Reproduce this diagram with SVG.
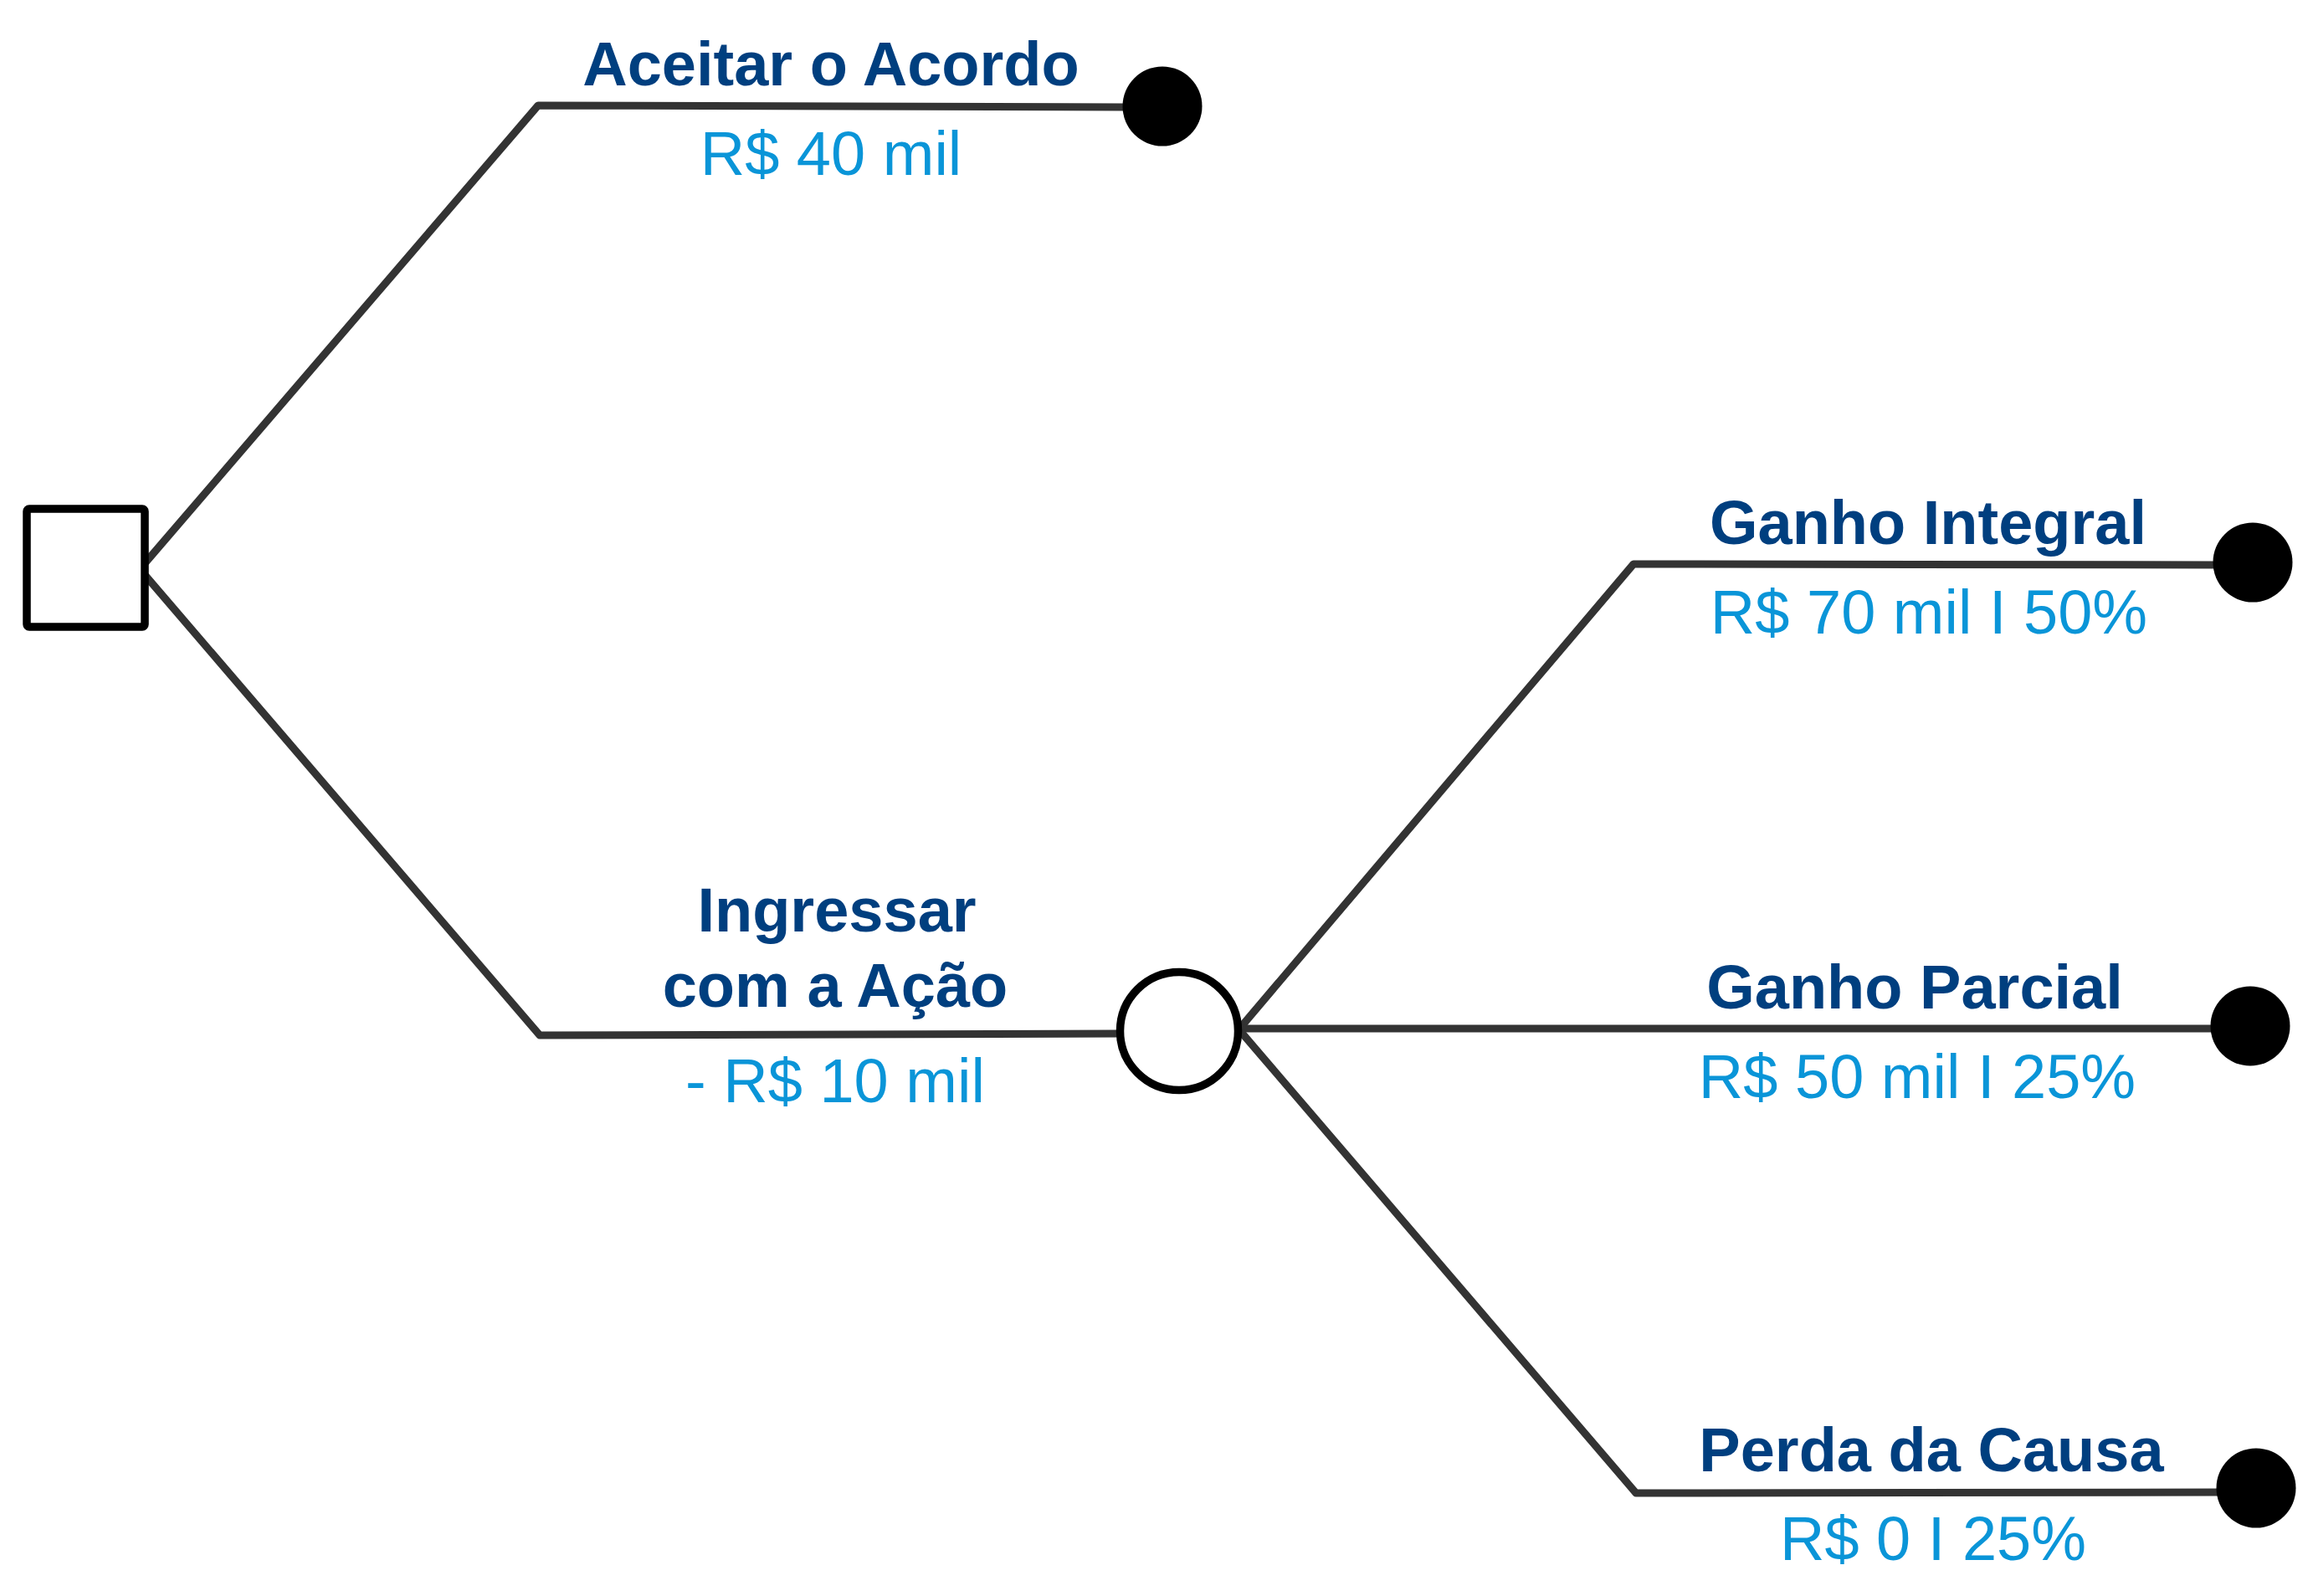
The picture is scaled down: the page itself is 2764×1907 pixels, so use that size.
<svg xmlns="http://www.w3.org/2000/svg" width="2764" height="1907" viewBox="0 0 2764 1907">
<style>
.edge{fill:none;stroke:#333333;stroke-width:9;stroke-linejoin:round;stroke-linecap:butt}
.lbl{font-family:"Liberation Sans",Arial,sans-serif;font-size:74px;font-weight:bold;fill:#003F7F;text-anchor:middle}
.val{font-family:"Liberation Sans",Arial,sans-serif;font-size:74px;fill:#0A95D8;text-anchor:middle}
.leaf{fill:#000000}
</style>
<rect width="2764" height="1907" fill="#ffffff"/>
<g id="connectors">
<path class="edge" d="M174,672 L643,126 L1345,128"/>
<path class="edge" d="M174,688 L645,1237 L1342,1235"/>
<path class="edge" d="M1483,1227 L1952,674 L2650,675"/>
<path class="edge" d="M1483,1229 L2650,1229"/>
<path class="edge" d="M1483,1233 L1955,1784 L2652,1783"/>
</g>
<g id="decision">
<rect x="32" y="608" width="141" height="141" rx="3" fill="#ffffff" stroke="#000000" stroke-width="9.5"/>
</g>
<g id="chance">
<circle cx="1409" cy="1232" r="70.5" fill="#ffffff" stroke="#000000" stroke-width="9.5"/>
</g>
<g id="leaf-acordo">
<circle class="leaf" cx="1389" cy="127" r="47.5"/>
</g>
<g id="leaf-integral">
<circle class="leaf" cx="2692" cy="672" r="47.5"/>
</g>
<g id="leaf-parcial">
<circle class="leaf" cx="2689" cy="1226" r="47.5"/>
</g>
<g id="leaf-perda">
<circle class="leaf" cx="2696" cy="1778" r="47.5"/>
</g>
<g id="label-acordo">
<text class="lbl" x="993" y="102">Aceitar o Acordo</text>
<text class="val" x="993" y="209">R$ 40 mil</text>
</g>
<g id="label-acao">
<text class="lbl" x="1000" y="1113">Ingressar</text>
<text class="lbl" x="998" y="1203">com a Ação</text>
<text class="val" x="998" y="1317">- R$ 10 mil</text>
</g>
<g id="label-integral">
<text class="lbl" x="2304" y="650">Ganho Integral</text>
<text class="val" x="2305" y="757">R$ 70 mil I 50%</text>
</g>
<g id="label-parcial">
<text class="lbl" x="2288" y="1205">Ganho Parcial</text>
<text class="val" x="2291" y="1312">R$ 50 mil I 25%</text>
</g>
<g id="label-perda">
<text class="lbl" x="2308" y="1758">Perda da Causa</text>
<text class="val" x="2310" y="1864">R$ 0 I 25%</text>
</g>
</svg>
